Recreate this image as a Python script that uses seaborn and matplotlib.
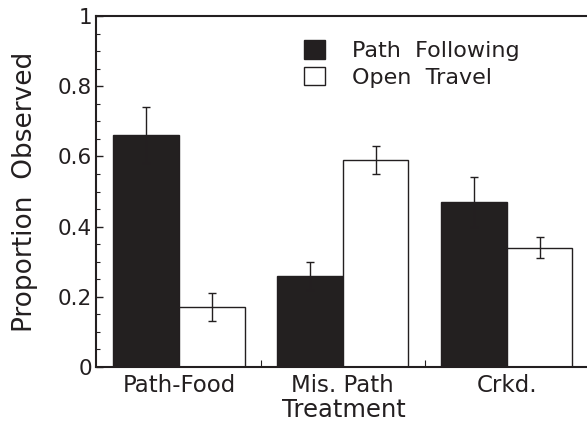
import matplotlib
matplotlib.use("Agg")
import matplotlib.pyplot as plt
import seaborn as sns
import pandas as pd
import numpy as np
from matplotlib.ticker import MultipleLocator, FixedLocator, FuncFormatter
from matplotlib.patches import Patch

treatments = ["Path-Food", "Mis. Path", "Crkd."]
series = ["Path  Following", "Open  Travel"]
path_following = [0.66, 0.26, 0.47]
open_travel = [0.17, 0.59, 0.34]
err_path = [0.08, 0.04, 0.07]
err_open = [0.04, 0.04, 0.03]

df = pd.DataFrame({
    "Treatment": treatments * 2,
    "Series": [series[0]] * 3 + [series[1]] * 3,
    "Value": path_following + open_travel,
})

sns.set_style("ticks")
plt.rcParams["font.family"] = ["DejaVu Sans"]
ink = "#231f20"
plt.rcParams["text.color"] = ink
plt.rcParams["axes.labelcolor"] = ink
plt.rcParams["xtick.color"] = ink
plt.rcParams["ytick.color"] = ink

fig = plt.figure(figsize=(5.87, 4.25), dpi=100)
ax = fig.add_axes([96 / 587, 58 / 425, 496 / 587, 351 / 425])

sns.barplot(data=df, x="Treatment", y="Value", hue="Series", order=treatments,
            hue_order=series, palette=[ink, "white"], edgecolor=ink,
            linewidth=1.0, width=0.8, errorbar=None, ax=ax, legend=False)

errs = [err_path, err_open]
vals = [path_following, open_travel]
bar_containers = list(ax.containers)
for si, container in enumerate(bar_containers):
    xs = [p.get_x() + p.get_width() / 2 for p in container.patches]
    ax.errorbar(xs, vals[si], yerr=errs[si], fmt="none", ecolor=ink,
                elinewidth=1.0, capsize=3, capthick=1.0, zorder=5)

ax.set_xlim(-0.506, 2.52)
ax.set_ylim(0, 1)
ax.yaxis.set_major_locator(MultipleLocator(0.2))
ax.yaxis.set_minor_locator(MultipleLocator(0.05))
ax.yaxis.set_major_formatter(FuncFormatter(lambda v, p: "0" if abs(v) < 1e-9 else ("1" if abs(v - 1) < 1e-9 else f"{v:.1f}")))
ax.tick_params(axis="y", which="major", direction="in", length=5, width=1.0, labelsize=15.5, pad=3)
ax.tick_params(axis="y", which="minor", direction="in", length=3, width=0.8)
ax.xaxis.set_minor_locator(FixedLocator([0.5, 1.5]))
ax.tick_params(axis="x", which="major", length=0, labelsize=16.5, pad=5)
ax.tick_params(axis="x", which="minor", direction="in", length=5, width=0.8)

for s in ["left", "bottom", "top", "right"]:
    ax.spines[s].set_visible(True)
    ax.spines[s].set_linewidth(1.5)
    ax.spines[s].set_color(ink)

ax.set_xlabel("Treatment", fontsize=17.5, labelpad=1)
ax.set_ylabel("Proportion  Observed", fontsize=19, labelpad=14)

handles = [Patch(facecolor=ink, edgecolor=ink),
           Patch(facecolor="white", edgecolor=ink)]
leg = ax.legend(handles, series, loc="upper left", bbox_to_anchor=(0.387, 0.975),
                frameon=False, fontsize=16, handlelength=0.95, handleheight=0.9,
                handletextpad=1.25, labelspacing=0.25, borderaxespad=0.3)

fig.savefig("out.png", dpi=100)
